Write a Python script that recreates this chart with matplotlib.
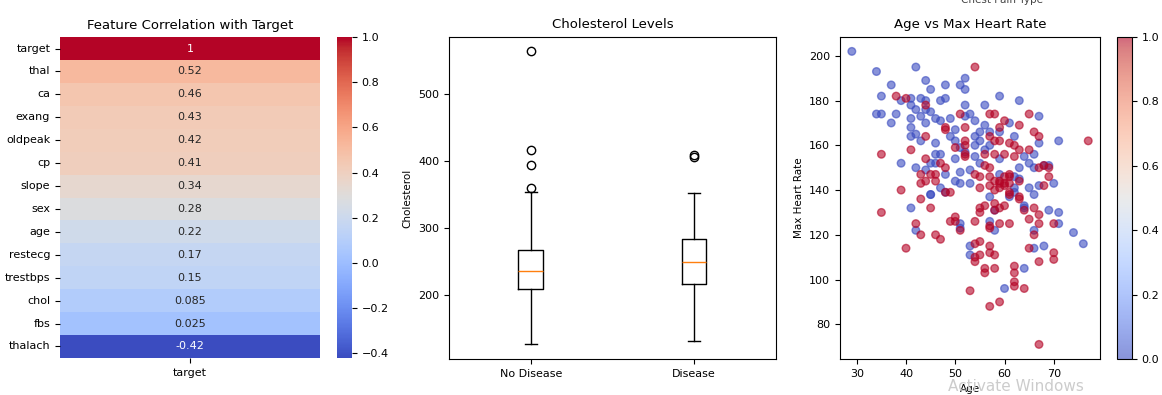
import numpy as np
import matplotlib
matplotlib.use("Agg")
import matplotlib.pyplot as plt
import seaborn as sns
import pandas as pd

# correlation with target (sorted)
features = ["target", "thal", "ca", "exang", "oldpeak", "cp", "slope", "sex",
            "age", "restecg", "trestbps", "chol", "fbs", "thalach"]
corr_vals = [1.0, 0.52, 0.46, 0.43, 0.42, 0.41, 0.34, 0.28, 0.22, 0.17,
             0.15, 0.085, 0.025, -0.42]

# cholesterol box stats
box_labels = ["No Disease", "Disease"]
whislo = [127, 132]
q1 = [210, 217]
med = [236, 250]
q3 = [268, 284]
whishi = [355, 353]
fliers = [[564, 417, 394, 360], [409, 407]]

# age / max heart rate / target
blue_age = [29, 34, 42, 37, 44, 48, 52, 51, 52, 45, 35, 39, 41, 43, 44, 47, 48, 52, 56, 59,
            63, 41, 42, 44, 45, 34, 35, 38, 53, 52, 67, 37, 41, 43, 41, 44, 46, 49, 47, 54,
            61, 56, 50, 42, 41, 55, 57, 59, 43, 46, 49, 50, 54, 55, 62, 67, 71, 54, 51, 46,
            47, 52, 56, 57, 64, 66, 50, 54, 39, 45, 46, 42, 55, 59, 63, 65, 66, 68, 69, 44,
            48, 51, 53, 59, 62, 50, 53, 51, 63, 67, 70, 47, 45, 48, 62, 65, 66, 57,
            41, 45, 42, 51, 51, 61, 62, 64, 64, 66, 69, 71, 71, 57, 58, 58, 53, 53, 64,
            60, 66, 68, 74, 76]
blue_hr = [202, 193, 195, 187, 189, 187, 190, 187, 185, 185, 182, 180, 181, 181, 180, 180, 181, 178, 178, 182,
           180, 178, 176, 176, 175, 174, 174, 174, 174, 173, 173, 170, 172, 173, 168, 170, 172, 172, 171, 171,
           170, 169, 167, 165, 164, 166, 166, 166, 162, 161, 164, 162, 164, 162, 164, 161, 162, 160, 159, 156,
           156, 157, 158, 160, 155, 156, 154, 155, 152, 152, 152, 150, 152, 154, 150, 152, 150, 151, 151, 149,
           147, 148, 149, 147, 146, 144, 143, 143, 145, 142, 143, 141, 138, 139, 141, 141, 138, 137,
           132, 138, 122, 125, 123, 137, 139, 133, 132, 122, 131, 130, 125, 126, 131, 122, 115, 111, 105,
           96, 114, 115, 121, 116]
red_age = [54, 38, 40, 44, 57, 58, 65, 51, 60, 63, 48, 48, 52, 59, 66, 67, 44, 52, 52, 57,
           58, 59, 61, 62, 77, 50, 41, 35, 52, 56, 58, 60, 62, 63, 65, 52, 44, 47, 48, 56,
           57, 67, 68, 69, 43, 45, 46, 54, 55, 57, 60, 61, 61, 69, 59, 46, 43, 44, 58, 59,
           60, 60, 61, 63, 39, 48, 49, 55, 58, 59, 61, 57, 63, 68,
           35, 43, 45, 42, 43, 46, 47, 49, 50, 50, 51, 54, 55, 55, 56, 58, 59, 60, 61, 63,
           64, 66, 66, 67, 67, 70, 65, 58, 57, 59, 61, 57, 40, 54, 54, 54, 55, 55, 57, 57,
           58, 56, 56, 58, 62, 62, 62, 62, 64, 65, 67, 70, 70, 53, 57, 59, 67]
red_hr = [195, 182, 181, 178, 174, 174, 174, 174, 171, 169, 168, 167, 168, 168, 166, 164, 164, 162, 160, 164,
          162, 162, 161, 160, 162, 159, 158, 156, 156, 156, 156, 156, 155, 158, 158, 155, 154, 152, 150, 151,
          150, 150, 151, 150, 147, 147, 147, 147, 146, 146, 146, 146, 147, 146, 144, 144, 143, 144, 144, 143,
          142, 143, 143, 144, 140, 139, 139, 141, 140, 141, 139, 142, 137, 142,
          130, 136, 132, 125, 120, 120, 118, 126, 128, 126, 122, 126, 130, 132, 133, 134, 132, 133, 138, 136,
          131, 132, 120, 129, 125, 125, 127, 131, 123, 125, 125, 124, 114, 116, 110, 108, 117, 111, 115, 112,
          111, 105, 103, 105, 106, 103, 99, 97, 96, 114, 108, 112, 109, 95, 88, 90, 71]

age = np.array(blue_age + red_age)
hr = np.array(blue_hr + red_hr)
target = np.array([0] * len(blue_age) + [1] * len(red_age))

fig = plt.figure(figsize=(11.62, 3.95), dpi=100)
ax1 = fig.add_axes([0.0516, 0.094, 0.2238, 0.812])
cax1 = fig.add_axes([0.290, 0.094, 0.0129, 0.812])
ax2 = fig.add_axes([0.3864, 0.091, 0.2814, 0.816])
ax3 = fig.add_axes([0.7229, 0.091, 0.2238, 0.816])
cax3 = fig.add_axes([0.961, 0.091, 0.0129, 0.816])

tick_fs = 8
title_fs = 9.5
# heatmap
df = pd.DataFrame({"target": corr_vals}, index=features)
sns.heatmap(df, annot=True, cmap="coolwarm", ax=ax1, cbar_ax=cax1,
            annot_kws={"fontsize": 8})
ax1.set_title("Feature Correlation with Target", fontsize=title_fs)
ax1.tick_params(labelsize=tick_fs)
ax1.set_yticklabels(features, rotation=0)
cax1.tick_params(labelsize=tick_fs)

# boxplot
stats = []
for i in range(2):
    stats.append({"whislo": whislo[i], "q1": q1[i], "med": med[i], "q3": q3[i],
                  "whishi": whishi[i], "fliers": fliers[i], "label": box_labels[i]})
ax2.bxp(stats)
ax2.set_title("Cholesterol Levels", fontsize=title_fs)
ax2.set_ylabel("Cholesterol", fontsize=7.5)
ax2.tick_params(labelsize=tick_fs)

# scatter
sc = ax3.scatter(age, hr, c=target, cmap="coolwarm", alpha=0.6, s=30)
ax3.set_title("Age vs Max Heart Rate", fontsize=title_fs)
ax3.set_xlabel("Age", fontsize=7.5)
ax3.set_ylabel("Max Heart Rate", fontsize=7.5)
ax3.tick_params(labelsize=tick_fs)
cb = fig.colorbar(sc, cax=cax3)
cb.ax.tick_params(labelsize=tick_fs)

fig.text(0.862, 1.0, "Chest Pain Type", ha="center", va="center", fontsize=7.5, color="#444444")
fig.text(0.874, 0.021, "Activate Windows", ha="center", va="center", fontsize=11, color="#cccccc")

fig.savefig("out.png", dpi=100)
